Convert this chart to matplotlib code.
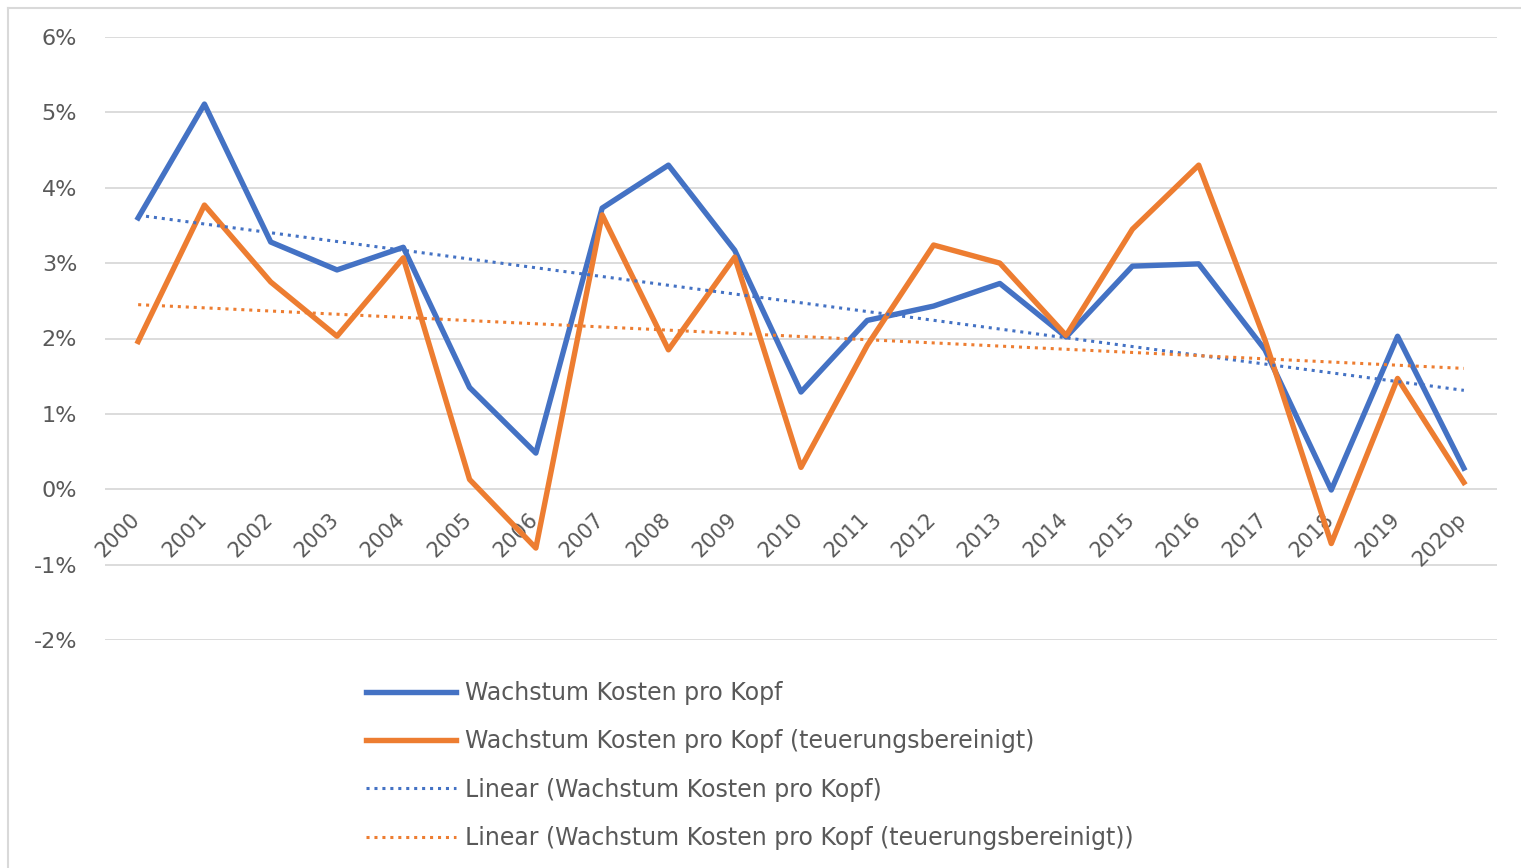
import numpy as np
import matplotlib.pyplot as plt
from matplotlib.lines import Line2D

# Daten (Wachstum in %)
jahre = ["2000", "2001", "2002", "2003", "2004", "2005", "2006", "2007", "2008", "2009",
         "2010", "2011", "2012", "2013", "2014", "2015", "2016", "2017", "2018", "2019", "2020p"]
wachstum = [3.60, 5.11, 3.28, 2.91, 3.21, 1.35, 0.48, 3.73, 4.30, 3.17,
            1.29, 2.24, 2.43, 2.73, 2.02, 2.96, 2.99, 1.85, -0.01, 2.03, 0.28]
wachstum_real = [1.96, 3.77, 2.75, 2.03, 3.07, 0.13, -0.78, 3.64, 1.85, 3.08,
                 0.29, 1.91, 3.24, 3.00, 2.04, 3.45, 4.30, 1.98, -0.72, 1.47, 0.09]

label_1 = "Wachstum Kosten pro Kopf"
label_2 = "Wachstum Kosten pro Kopf (teuerungsbereinigt)"

BLAU = "#4472C4"
ORANGE = "#ED7D31"
GRAU = "#595959"

plt.rcParams["font.family"] = ["DejaVu Sans"]

W, H = 1521, 868
fig = plt.figure(figsize=(W / 100, H / 100), dpi=100)
ax = fig.add_axes([105 / W, 1 - 640 / H, (1497 - 105) / W, (640 - 37) / H])

x = np.arange(len(jahre))

# lineare Trends (wie Excel-Trendlinie)
k1 = np.polyfit(x, wachstum, 1)
k2 = np.polyfit(x, wachstum_real, 1)

ax.plot(x, wachstum, color=BLAU, lw=3.9, solid_joinstyle="round", zorder=3)
ax.plot(x, wachstum_real, color=ORANGE, lw=3.9, solid_joinstyle="round", zorder=3)
ax.plot(x, np.polyval(k1, x), color=BLAU, lw=2.2, ls=(0, (1, 1.6)), zorder=4)
ax.plot(x, np.polyval(k2, x), color=ORANGE, lw=2.2, ls=(0, (1, 1.6)), zorder=4)

ax.set_xlim(-0.5, 20.5)
ax.set_ylim(-2, 6)
ax.set_yticks(range(-2, 7))
ax.set_yticklabels([f"{v}%" for v in range(-2, 7)], fontsize=16, color=GRAU)
ax.tick_params(axis="y", length=0, pad=20)
ax.set_xticks([])
ax.grid(axis="y", color="#D9D9D9", lw=1.3)
ax.set_axisbelow(True)
for s in ax.spines.values():
    s.set_visible(False)

# Jahresbeschriftungen an der 0%-Linie
for i, j in enumerate(jahre):
    ax.annotate(j, xy=(i, 0), xytext=(6, -20), textcoords="offset pixels",
                rotation=45, ha="right", va="top", fontsize=15, color=GRAU, zorder=2)

handles = [
    Line2D([], [], color=BLAU, lw=3.9),
    Line2D([], [], color=ORANGE, lw=3.9),
    Line2D([], [], color=BLAU, lw=2.2, ls=(0, (1, 1.6))),
    Line2D([], [], color=ORANGE, lw=2.2, ls=(0, (1, 1.6))),
]
labels = [label_1, label_2, f"Linear ({label_1})", f"Linear ({label_2})"]
fig.legend(handles, labels, loc="upper left", bbox_to_anchor=(366 / W, 1 - 681 / H),
           frameon=False, fontsize=17, labelcolor=GRAU, handlelength=3.8,
           handletextpad=0.4, labelspacing=1.03, borderpad=0, borderaxespad=0)

# Rahmen des Diagramms
fig.add_artist(Line2D([8 / W, 1], [1 - 8 / H, 1 - 8 / H], color="#D9D9D9", lw=1.5))
fig.add_artist(Line2D([8 / W, 8 / W], [0, 1 - 8 / H], color="#D9D9D9", lw=1.5))

fig.savefig("out.png", dpi=100)
